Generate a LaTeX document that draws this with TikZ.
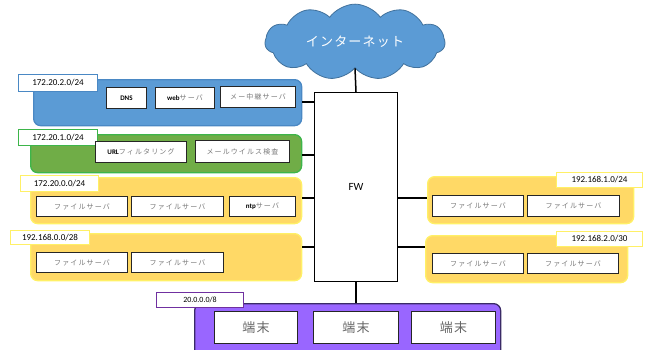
\documentclass[tikz,border=0pt]{standalone}
\usepackage{fontspec}
\setmainfont{Carlito}
\newfontfamily\jp[LetterSpace=16]{Noto Sans CJK JP}
\newfontfamily\jpbig[LetterSpace=9]{Noto Sans CJK JP}
\usetikzlibrary{shapes.symbols}
\definecolor{bluefill}{HTML}{5B9BD5}
\definecolor{blueline}{HTML}{4A88C4}
\definecolor{greenfill}{HTML}{70AD47}
\definecolor{greenline}{HTML}{3DB54A}
\definecolor{yelfill}{HTML}{FFD966}
\definecolor{yelline}{HTML}{FFF066}
\definecolor{purfill}{HTML}{9966FF}
\definecolor{purline}{HTML}{3A2A66}
\definecolor{purlbl}{HTML}{7030A0}
\definecolor{cloudline}{HTML}{41719C}
\definecolor{jpgray}{HTML}{7A7A7A}
\newcommand{\jt}[1]{{\jp\mdseries\color{jpgray}#1}}
\begin{document}
\begin{tikzpicture}[x=1pt,y=-1pt,
  grp/.style={rounded corners=7pt, line width=1.3pt, anchor=north west, inner sep=0pt},
  lbl/.style={fill=white, line width=1pt, anchor=north west, inner sep=0pt,
    font=\fontsize{9}{10}\selectfont},
  srv/.style={draw=black!85, fill=white, line width=1pt, anchor=north west, inner sep=0pt,
    font=\fontsize{7}{8}\selectfont\bfseries},
  tm/.style={srv, minimum height=32pt, font=\jpbig\fontsize{13}{14}\selectfont, text=black!60},
  wire/.style={line width=1.5pt, black}]
\useasboundingbox (0,0) rectangle (648,349);

% cloud
\node[cloud, cloud puffs=11, cloud puff arc=110, aspect=2.4, fill=bluefill, draw=cloudline, line width=0.8pt,
  minimum width=180pt, minimum height=72pt, inner sep=0pt, text=white,
  font=\jpbig\fontsize{13}{14}\selectfont] (net) at (355,42) {インターネット};

% FW
\node[draw=black, line width=1pt, fill=white, minimum width=83pt, minimum height=189pt,
  anchor=north west, inner sep=0pt, font=\fontsize{11}{12}\selectfont] (fw) at (314,92) {FW};

% blue group
\node[grp, fill=bluefill, draw=blueline, minimum width=268pt, minimum height=46pt] (gb) at (33,79) {};
\node[lbl, draw=blueline, minimum width=79pt, minimum height=17pt] (lb) at (18,74) {172.20.2.0/24};
\node[srv, minimum width=40pt, minimum height=21pt] (dns) at (106,87) {DNS};
\node[srv, minimum width=59pt, minimum height=21pt] (web) at (155,87) {web\jt{サーバ}};
\node[srv, minimum width=75pt, minimum height=21pt] (mail) at (220,86) {\jt{メー中継サーバ}};

% green group
\node[grp, fill=greenfill, draw=greenline, minimum width=271pt, minimum height=38pt] (gg) at (30,134) {};
\node[lbl, draw=greenline, minimum width=79pt, minimum height=16pt] (lg) at (18,129) {172.20.1.0/24};
\node[srv, minimum width=91pt, minimum height=21pt] (url) at (95,141) {URL\jt{フィルタリング}};
\node[srv, minimum width=94pt, minimum height=22pt] (virus) at (195,140) {\jt{メールウイルス検査}};

% yellow group 1
\node[grp, fill=yelfill, draw=yelline, minimum width=271pt, minimum height=46pt] (gy1) at (30,177) {};
\node[lbl, draw=yelline, minimum width=78pt, minimum height=16pt] (ly1) at (20,175) {172.20.0.0/24};
\node[srv, minimum width=91pt, minimum height=20pt] (f1) at (36,196) {\jt{ファイルサーバ}};
\node[srv, minimum width=92pt, minimum height=20pt] (f2) at (131,196) {\jt{ファイルサーバ}};
\node[srv, minimum width=66pt, minimum height=20pt] (ntp) at (229,196) {ntp\jt{サーバ}};

% yellow group 2
\node[grp, fill=yelfill, draw=yelline, minimum width=271pt, minimum height=47pt] (gy2) at (30,233) {};
\node[lbl, draw=yelline, minimum width=79pt, minimum height=14pt] (ly2) at (10,230) {192.168.0.0/28};
\node[srv, minimum width=91pt, minimum height=20pt] (f3) at (36,252) {\jt{ファイルサーバ}};
\node[srv, minimum width=92pt, minimum height=20pt] (f4) at (131,252) {\jt{ファイルサーバ}};

% right yellow group 1
\node[grp, fill=yelfill, draw=yelline, minimum width=206pt, minimum height=47pt] (gr1) at (427,176) {};
\node[lbl, draw=yelline, minimum width=86pt, minimum height=15pt] (lr1) at (556,172) {192.168.1.0/24};
\node[srv, minimum width=91pt, minimum height=21pt] (f5) at (432,195) {\jt{ファイルサーバ}};
\node[srv, minimum width=92pt, minimum height=21pt] (f6) at (527,195) {\jt{ファイルサーバ}};

% right yellow group 2
\node[grp, fill=yelfill, draw=yelline, minimum width=202pt, minimum height=47pt] (gr2) at (425,235) {};
\node[lbl, draw=yelline, minimum width=86pt, minimum height=15pt] (lr2) at (556,231) {192.168.2.0/30};
\node[srv, minimum width=91pt, minimum height=20pt] (f7) at (432,253) {\jt{ファイルサーバ}};
\node[srv, minimum width=91pt, minimum height=20pt] (f8) at (527,253) {\jt{ファイルサーバ}};

% purple group
\node[grp, fill=purfill, draw=purline, minimum width=306pt, minimum height=60pt] (gp) at (194,303) {};
\node[lbl, draw=purlbl, minimum width=87pt, minimum height=15pt, font=\fontsize{8}{9}\selectfont] (lp) at (156,292) {20.0.0.0/8};
\node[tm, minimum width=83pt] (t1) at (214,311) {端末};
\node[tm, minimum width=85pt] (t2) at (313,311) {端末};
\node[tm, minimum width=84pt] (t3) at (411,311) {端末};

% connectors
\coordinate (yb) at (0,102);
\coordinate (yg) at (0,155);
\coordinate (y1) at (0,198);
\coordinate (y2) at (0,247);
\draw[wire] (net.south) -- (fw.north);
\draw[wire] (gb.east |- yb) -- (fw.west |- yb);
\draw[wire] (gg.east |- yg) -- (fw.west |- yg);
\draw[wire] (gy1.east |- y1) -- (fw.west |- y1);
\draw[wire] (gy2.east |- y2) -- (fw.west |- y2);
\draw[wire] (fw.east |- y1) -- (gr1.west |- y1);
\draw[wire] (fw.east |- y2) -- (gr2.west |- y2);
\draw[wire] (fw.south) -- (gp.north -| fw.south);
\end{tikzpicture}
\end{document}
